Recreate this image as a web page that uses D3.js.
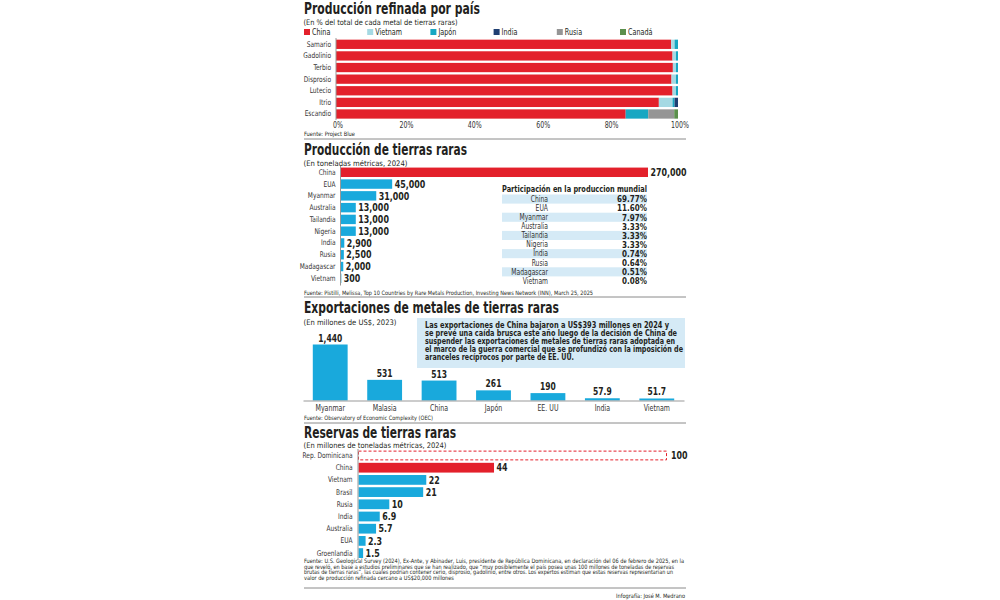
<!DOCTYPE html>
<html>
<head>
<meta charset="utf-8">
<script src="https://cdn.jsdelivr.net/npm/d3@7"></script>
<style>
  body { margin: 0; background: #fff; }
  text { font-family: 'Liberation Sans Narrow', 'DejaVu Sans Condensed', 'Roboto', sans-serif; fill: #231f20; }
</style>
</head>
<body>
<div id="res"></div>
<script>
/* datos: producción refinada (% por metal) */
var metals = ["Samario", "Gadolinio", "Terbio", "Disprosio", "Lutecio", "Itrio", "Escandio"];
var refCountries = ["China", "Vietnam", "Japón", "India", "Rusia", "Canadá"];
var refChina   = [98.0, 98.4, 98.5, 98.1, 98.4, 94.4, 84.7];
var refVietnam = [1.0, 1.0, 0.9, 1.3, 1.0, 4.0, 0];
var refJapon   = [1.0, 0.6, 0.6, 0.6, 0.6, 0.6, 6.6];
var refIndia   = [0, 0, 0, 0, 0, 1.0, 0];
var refRusia   = [0, 0, 0, 0, 0, 0, 7.6];
var refCanada  = [0, 0, 0, 0, 0, 0, 1.1];
var pctTicks = [0, 20, 40, 60, 80, 100];

/* datos: producción de tierras raras (t, 2024) */
var prodCountries = ["China", "EUA", "Myanmar", "Australia", "Tailandia", "Nigeria", "India", "Rusia", "Madagascar", "Vietnam"];
var prodValues = [270000, 45000, 31000, 13000, 13000, 13000, 2900, 2500, 2000, 300];
var prodShares = [69.77, 11.60, 7.97, 3.33, 3.33, 3.33, 0.74, 0.64, 0.51, 0.08];

/* datos: exportaciones (millones US$, 2023) */
var expCountries = ["Myanmar", "Malasia", "China", "Japón", "EE. UU", "India", "Vietnam"];
var expValues = [1440, 531, 513, 261, 190, 57.9, 51.7];

/* datos: reservas (millones t, 2024) */
var resCountries = ["Rep. Dominicana", "China", "Vietnam", "Brasil", "Rusia", "India", "Australia", "EUA", "Groenlandia"];
var resValues = [100, 44, 22, 21, 10, 6.9, 5.7, 2.3, 1.5];

var red = "#e3202b";
var blue = "#19a9dc";
var refColors = ["#e3202b", "#a5d9e3", "#17a7c2", "#1f3f72", "#959595", "#5b8f4c"];
var fmt = d3.format(",");

var svg = d3.select("#res")
	.append("svg")
		.attr("width", 1000)
		.attr("height", 600);

/* helpers: texts with a fixed width are squeezed to it */
function fit(sel, w) {
	return sel.attr("textLength", w).attr("lengthAdjust", "spacingAndGlyphs");
}
function title(txt, y, x2) {
	fit(svg.append("text")
		.attr("x", 304).attr("y", y)
		.attr("font-size", 15).attr("font-weight", "bold")
		.text(txt), x2 - 304);
}
function subtitle(txt, y, w) {
	fit(svg.append("text").attr("x", 303.5).attr("y", y).attr("font-size", 7.6).text(txt), w);
}
function note(txt, x, y, w, anchor) {
	fit(svg.append("text").attr("x", x).attr("y", y).attr("font-size", 6)
		.attr("text-anchor", anchor || "start").text(txt), w);
}
function rule(y) {
	svg.append("line").attr("x1", 304).attr("x2", 686).attr("y1", y).attr("y2", y)
		.style("stroke", "#8a8a8a").style("stroke-width", 1);
}
function categoryAxis(scale, x, size) {
	var g = svg.append("g")
		.attr("transform", "translate(" + x + ",0)")
		.call(d3.axisLeft(scale).tickSize(0).tickPadding(3));
	g.select(".domain").remove();
	g.selectAll("text").attr("font-size", size).style("fill", "#333").style("font-family", null);
	return g;
}

/* ---------- 1. Producción refinada por país ---------- */
title("Producción refinada por país", 13.5, 480);
subtitle("(En % del total de cada metal de tierras raras)", 24.5, 154);

var legendX = d3.scalePoint().domain(refCountries).range([304, 620]);
refCountries.forEach(function(c, i) {
	svg.append("rect").attr("x", legendX(c)).attr("y", 29).attr("width", 6).attr("height", 6).attr("fill", refColors[i]);
	svg.append("text").attr("x", legendX(c) + 8).attr("y", 35.3).attr("font-size", 8.5).text(c);
});

var refRows = metals.map(function(m, i) {
	return { metal: m, "China": refChina[i], "Vietnam": refVietnam[i], "Japón": refJapon[i],
		"India": refIndia[i], "Rusia": refRusia[i], "Canadá": refCanada[i] };
});
var x1 = d3.scaleLinear().domain([0, 100]).range([336, 678]);
var y1 = d3.scaleBand().domain(metals).range([38.5, 119.8]).paddingInner(0.2).paddingOuter(0.1);
var stacked = d3.stack().keys(refCountries)(refRows);

svg.append("g").selectAll("g")
	.data(stacked).join("g")
		.attr("fill", function(d, i) { return refColors[i]; })
	.selectAll("rect")
	.data(function(d) { return d; }).join("rect")
		.attr("x", function(d) { return x1(d[0]); })
		.attr("y", function(d) { return y1(d.data.metal); })
		.attr("width", function(d) { return x1(d[1]) - x1(d[0]); })
		.attr("height", y1.bandwidth());

svg.append("line").attr("x1", 336).attr("x2", 336).attr("y1", 38).attr("y2", 120).style("stroke", "#999");
categoryAxis(y1, 334, 7.8);

var ax1 = svg.append("g")
	.attr("transform", "translate(1.5,119)")
	.call(d3.axisBottom(x1).tickValues(pctTicks).tickFormat(function(d) { return d + "%"; }).tickSize(0).tickPadding(3.5));
ax1.select(".domain").remove();
ax1.selectAll("text").attr("font-size", 8.3).style("fill", "#333").style("font-family", null);
note("Fuente: Project Blue", 304, 135.5, 51);
rule(139);

/* ---------- 2. Producción de tierras raras ---------- */
title("Producción de tierras raras", 155, 467);
subtitle("(En toneladas métricas, 2024)", 165.5, 104);

var x2 = d3.scaleLinear().domain([0, 270000]).range([341, 648]);
var y2 = d3.scaleBand().domain(prodCountries).range([166.4, 284.2]).paddingInner(0.2).paddingOuter(0.1);

svg.append("g").selectAll("rect")
	.data(prodCountries).join("rect")
		.attr("x", x2(0))
		.attr("y", function(d) { return y2(d); })
		.attr("width", function(d, i) { return x2(prodValues[i]) - x2(0); })
		.attr("height", y2.bandwidth())
		.attr("fill", function(d, i) { return i === 0 ? red : blue; });

svg.append("g").selectAll("text")
	.data(prodCountries).join("text")
		.attr("x", function(d, i) { return x2(prodValues[i]) + 2.5; })
		.attr("y", function(d) { return y2(d) + y2.bandwidth() / 2 + 3.7; })
		.attr("font-size", 10.5).attr("font-weight", "bold")
		.text(function(d, i) { return fmt(prodValues[i]); });

svg.append("line").attr("x1", 340.5).attr("x2", 340.5).attr("y1", 166).attr("y2", 285.5).style("stroke", "#999");
categoryAxis(y2, 338.5, 7.8);

/* tabla de participación */
fit(svg.append("text").attr("x", 502).attr("y", 191.5).attr("font-size", 9.5).attr("font-weight", "bold")
	.text("Participación en la produccion mundial"), 145);
var yT = d3.scaleBand().domain(prodCountries).range([194.5, 285.5]);
var rows = svg.append("g").selectAll("g")
	.data(prodCountries).join("g")
		.attr("transform", function(d) { return "translate(0," + yT(d) + ")"; });
rows.filter(function(d, i) { return i % 2 === 0; })
	.append("rect").attr("x", 502).attr("width", 145).attr("height", yT.bandwidth()).attr("fill", "#d5eaf6");
rows.append("text").attr("x", 548).attr("y", yT.bandwidth() / 2 + 2.8)
	.attr("text-anchor", "end").attr("font-size", 8).style("fill", "#333")
	.text(function(d) { return d; });
rows.append("text").attr("x", 647).attr("y", yT.bandwidth() / 2 + 3.3)
	.attr("text-anchor", "end").attr("font-size", 9.5).attr("font-weight", "bold")
	.text(function(d, i) { return prodShares[i].toFixed(2) + "%"; });

note("Fuente: Pistilli, Melissa, Top 10 Countries by Rare Metals Production, Investing News Network (INN), March 25, 2025", 304, 294.5, 289);
rule(297);

/* ---------- 3. Exportaciones de metales de tierras raras ---------- */
title("Exportaciones de metales de tierras raras", 312.5, 559);
subtitle("(En millones de US$, 2023)", 325, 93);

svg.append("rect").attr("x", 417).attr("y", 318).attr("width", 268).attr("height", 50).attr("fill", "#d5eaf6");
var boxLines = [
	"Las exportaciones de China bajaron a US$393 millones en 2024 y",
	"se prevé una caída brusca este año luego de la decisión de China de",
	"suspender las exportaciones de metales de tierras raras adoptada en",
	"el marco de la guerra comercial que se profundizó con la imposición de",
	"aranceles recíprocos por parte de EE. UU."
];
var boxWidths = [244, 252, 250, 258, 149];
svg.append("g").selectAll("text")
	.data(boxLines).join("text")
		.attr("x", 425)
		.attr("y", function(d, i) { return 327.5 + i * 8.2; })
		.attr("font-size", 9).attr("font-weight", "bold")
		.attr("textLength", function(d, i) { return boxWidths[i]; })
		.attr("lengthAdjust", "spacingAndGlyphs")
		.text(function(d) { return d; });

var x3 = d3.scaleBand().domain(expCountries).range([303, 684]).paddingInner(0.36).paddingOuter(0.18);
var y3 = d3.scaleLinear().domain([0, 1440]).range([400.5, 344.5]);

svg.append("g").selectAll("rect")
	.data(expCountries).join("rect")
		.attr("x", function(d) { return x3(d); })
		.attr("y", function(d, i) { return y3(expValues[i]); })
		.attr("width", x3.bandwidth())
		.attr("height", function(d, i) { return y3(0) - y3(expValues[i]); })
		.attr("fill", blue);

svg.append("g").selectAll("text")
	.data(expCountries).join("text")
		.attr("x", function(d) { return x3(d) + x3.bandwidth() / 2; })
		.attr("y", function(d, i) { return y3(expValues[i]) - 3; })
		.attr("text-anchor", "middle").attr("font-size", 10).attr("font-weight", "bold")
		.text(function(d, i) { return fmt(expValues[i]); });

var ax3 = svg.append("g")
	.attr("transform", "translate(0,400.5)")
	.call(d3.axisBottom(x3).tickSize(0).tickPadding(4.5));
ax3.select(".domain").style("stroke", "#999");
ax3.selectAll("text").attr("font-size", 8.3).style("fill", "#333").style("font-family", null);

note("Fuente: Observatory of Economic Complexity (OEC)", 304, 419.5, 129);
rule(423);

/* ---------- 4. Reservas de tierras raras ---------- */
title("Reservas de tierras raras", 437.5, 456);
subtitle("(En millones de toneladas métricas, 2024)", 448, 143);

var x4 = d3.scaleLinear().domain([0, 100]).range([358, 666]);
var y4 = d3.scaleBand().domain(resCountries).range([449.4, 559.2]).paddingInner(0.2).paddingOuter(0.1);

svg.append("g").selectAll("rect")
	.data(resCountries).join("rect")
		.attr("x", x4(0) + 0.5)
		.attr("y", function(d, i) { return i === 0 ? y4(d) + 0.5 : y4(d); })
		.attr("width", function(d, i) { return x4(resValues[i]) - x4(0); })
		.attr("height", function(d, i) { return i === 0 ? y4.bandwidth() - 1 : y4.bandwidth(); })
		.attr("fill", function(d, i) { return i === 0 ? "none" : (i === 1 ? red : blue); })
		.style("stroke", function(d, i) { return i === 0 ? red : null; })
		.style("stroke-dasharray", function(d, i) { return i === 0 ? "3,2" : null; });

svg.append("g").selectAll("text")
	.data(resCountries).join("text")
		.attr("x", function(d, i) { return x4(resValues[i]) + (i === 0 ? 5 : 3); })
		.attr("y", function(d) { return y4(d) + y4.bandwidth() / 2 + 3.7; })
		.attr("font-size", 10.5).attr("font-weight", "bold")
		.text(function(d, i) { return fmt(resValues[i]); });

svg.append("line").attr("x1", 358).attr("x2", 358).attr("y1", 449).attr("y2", 560).style("stroke", "#999");
categoryAxis(y4, 355.5, 7.8);

var notes = [
	"Fuente: U.S. Geological Survey (2024), Ex-Ante,  y Abinader, Luis, presidente de República Dominicana, en declaración del 06 de febrero de 2025, en la",
	"que reveló, en base a estudios preliminares que se han realizado, que “muy posiblemente el país posea unas 100 millones de toneladas de reservas",
	"brutas de tierras raras”, las cuales podrían contener cerio, disprosio, gadolinio, entre otros. Los expertos estiman que estas reservas representarían un",
	"valor de producción refinada cercano a US$20,000 millones"
];
var noteWidths = [380, 370, 369, 150];
notes.forEach(function(t, i) { note(t, 304, 563 + i * 5.6, noteWidths[i]); });
rule(588);
note("Infografía: José M. Medrano", 685, 598, 69, "end");

/* the rest of the labels: narrow them like a condensed face */
svg.selectAll("text").each(function() {
	if (!this.hasAttribute("textLength")) {
		var w = this.getComputedTextLength();
		this.setAttribute("textLength", w * 0.84);
		this.setAttribute("lengthAdjust", "spacingAndGlyphs");
	}
});
</script>
</body>
</html>
